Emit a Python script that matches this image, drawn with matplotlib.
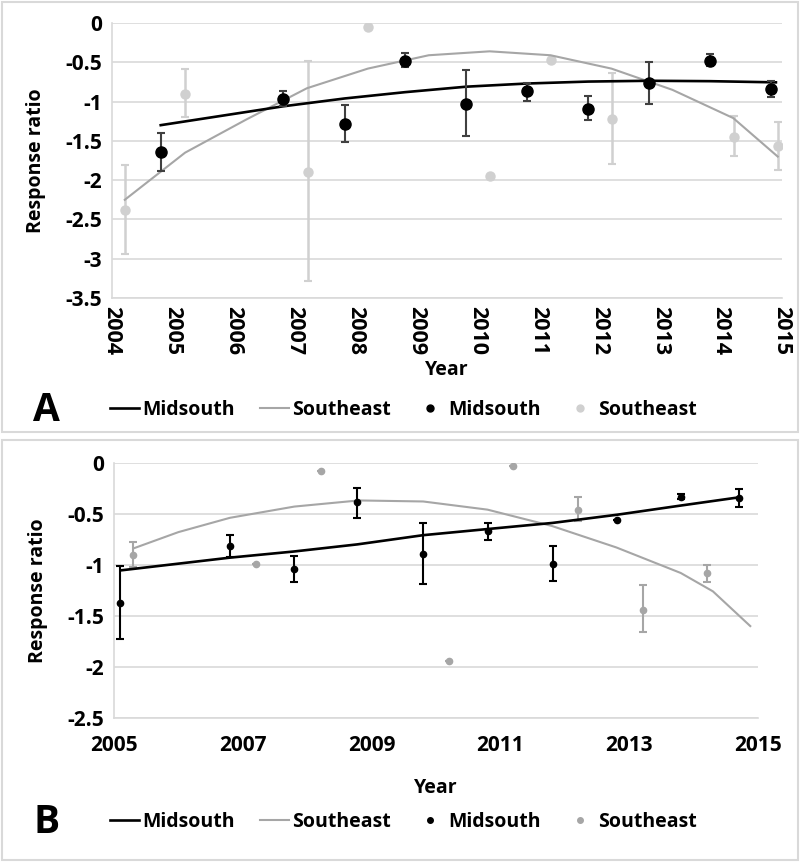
import matplotlib
matplotlib.use("Agg")
from matplotlib import pyplot as plt
from matplotlib.patches import Rectangle
from matplotlib.lines import Line2D

plt.rcParams['font.family'] = ['Open Sans', 'DejaVu Sans']
plt.rcParams['font.weight'] = 'bold'

# ---- panel A data ----
a_ms_x = [2004.8, 2006.81, 2007.82, 2008.81, 2009.82, 2010.81, 2011.82, 2012.82, 2013.82, 2014.82]
a_ms_y = [-1.645, -0.97, -1.28, -0.48, -1.03, -0.87, -1.09, -0.76, -0.48, -0.84]
a_ms_hi = [-1.40, -0.86, -1.04, -0.38, -0.60, -0.76, -0.93, -0.49, -0.39, -0.74]
a_ms_lo = [-1.88, -1.06, -1.52, -0.56, -1.44, -0.99, -1.24, -1.03, -0.55, -0.94]

a_se_x = [2004.21, 2005.2, 2007.21, 2008.21, 2010.21, 2011.21, 2012.21, 2014.22, 2014.93]
a_se_y = [-2.38, -0.90, -1.90, -0.05, -1.95, -0.47, -1.22, -1.45, -1.57]
a_se_hi = [-1.81, -0.59, -0.48, -0.05, -1.95, -0.47, -0.63, -1.18, -1.26]
a_se_lo = [-2.94, -1.20, -3.29, -0.05, -1.95, -0.47, -1.79, -1.69, -1.87]

a_ms_trend_x = [2004.8, 2006.81, 2007.82, 2008.81, 2009.82, 2010.81, 2011.82, 2012.82, 2013.82, 2014.9]
a_ms_trend_y = [-1.30, -1.06, -0.96, -0.88, -0.81, -0.77, -0.745, -0.735, -0.74, -0.755]

a_se_trend_x = [2004.21, 2005.2, 2006.2, 2007.2, 2008.2, 2009.2, 2010.2, 2011.2, 2012.2, 2013.2, 2014.2, 2014.93]
a_se_trend_y = [-2.25, -1.65, -1.23, -0.83, -0.58, -0.41, -0.36, -0.41, -0.58, -0.85, -1.21, -1.70]

# ---- panel B data ----
b_ms_x = [2005.10, 2006.80, 2007.79, 2008.78, 2009.80, 2010.80, 2011.81, 2012.81, 2013.80, 2014.70]
b_ms_y = [-1.37, -0.82, -1.04, -0.39, -0.89, -0.67, -0.99, -0.56, -0.335, -0.35]
b_ms_hi = [-1.01, -0.71, -0.91, -0.25, -0.59, -0.59, -0.82, -0.56, -0.31, -0.26]
b_ms_lo = [-1.73, -0.92, -1.17, -0.54, -1.19, -0.76, -1.16, -0.56, -0.36, -0.43]

b_se_x = [2005.30, 2007.20, 2008.21, 2010.20, 2011.20, 2012.20, 2013.21, 2014.21]
b_se_y = [-0.90, -0.99, -0.08, -1.94, -0.03, -0.46, -1.44, -1.08]
b_se_hi = [-0.78, -0.99, -0.08, -1.94, -0.03, -0.34, -1.20, -1.00]
b_se_lo = [-1.02, -0.99, -0.08, -1.94, -0.03, -0.57, -1.66, -1.17]

b_ms_trend_x = [2005.10, 2006.80, 2007.79, 2008.78, 2009.80, 2010.80, 2011.81, 2012.81, 2013.80, 2014.70]
b_ms_trend_y = [-1.055, -0.93, -0.87, -0.80, -0.71, -0.65, -0.59, -0.51, -0.42, -0.34]

b_se_trend_x = [2005.3, 2006.0, 2006.8, 2007.8, 2008.8, 2009.8, 2010.8, 2011.8, 2012.8, 2013.8, 2014.3, 2014.88]
b_se_trend_y = [-0.84, -0.68, -0.54, -0.43, -0.37, -0.38, -0.46, -0.62, -0.83, -1.08, -1.26, -1.60]

grid_c = "#d9d9d9"
light = "#d0d0d0"
mid = "#a6a6a6"


def errs(y, hi, lo):
    return [[v - l for v, l in zip(y, lo)], [h - v for v, h in zip(y, hi)]]


def style_axes(ax):
    ax.grid(axis="y", color=grid_c, linewidth=1.2)
    ax.set_axisbelow(True)
    for s in ["top", "right"]:
        ax.spines[s].set_visible(False)
    for s in ["left", "bottom"]:
        ax.spines[s].set_color(grid_c)
        ax.spines[s].set_linewidth(1.2)
    ax.tick_params(length=0, labelsize=15, pad=7)
    for lab in ax.get_xticklabels() + ax.get_yticklabels():
        lab.set_fontweight("bold")


fig = plt.figure(figsize=(8, 8.63), dpi=100)

# panel frames
fig.add_artist(Rectangle((0.003, 1 - 432 / 863), 0.994, 430 / 863, transform=fig.transFigure,
                         fill=False, edgecolor=grid_c, linewidth=1.5))
fig.add_artist(Rectangle((0.003, 0.003), 0.994, 1 - 440 / 863 - 0.003, transform=fig.transFigure,
                         fill=False, edgecolor=grid_c, linewidth=1.5))

# ---- panel A ----
axA = fig.add_axes([0.14, 0.6547, 0.8375, 0.3186])
axA.plot(a_ms_trend_x, a_ms_trend_y, color="black", linewidth=1.9, zorder=3)
axA.plot(a_se_trend_x, a_se_trend_y, color=mid, linewidth=1.5, zorder=2)
axA.errorbar(a_se_x, a_se_y, yerr=errs(a_se_y, a_se_hi, a_se_lo), fmt="o", color=light,
             ecolor=light, markersize=6.5, capsize=3, elinewidth=1.8, capthick=1.5, zorder=1)
axA.errorbar(a_ms_x, a_ms_y, yerr=errs(a_ms_y, a_ms_hi, a_ms_lo), fmt="o", color="black",
             ecolor="#404040", markersize=8, capsize=3, elinewidth=1.5, capthick=1.5, zorder=4)
axA.set_xlim(2004, 2015)
axA.set_ylim(-3.5, 0)
axA.set_xticks(range(2004, 2016))
axA.set_yticks([0, -0.5, -1, -1.5, -2, -2.5, -3, -3.5])
axA.set_yticklabels(["0", "-0.5", "-1", "-1.5", "-2", "-2.5", "-3", "-3.5"])
style_axes(axA)
axA.tick_params(axis="x", labelsize=15.5, pad=6)
for lab in axA.get_xticklabels():
    lab.set_rotation(270)
axA.set_ylabel("Response ratio", fontsize=14, fontweight="bold", labelpad=14)
axA.set_xlabel("Year", fontsize=14, fontweight="bold", labelpad=3)

# ---- panel B ----
axB = fig.add_axes([0.1425, 0.168, 0.805, 0.2959])
axB.plot(b_ms_trend_x, b_ms_trend_y, color="black", linewidth=1.9, zorder=3)
axB.plot(b_se_trend_x, b_se_trend_y, color=mid, linewidth=1.5, zorder=2)
axB.errorbar(b_se_x, b_se_y, yerr=errs(b_se_y, b_se_hi, b_se_lo), fmt="o", color=mid,
             ecolor=mid, markersize=4.5, capsize=3, elinewidth=1.5, capthick=1.5, zorder=1)
axB.errorbar(b_ms_x, b_ms_y, yerr=errs(b_ms_y, b_ms_hi, b_ms_lo), fmt="o", color="black",
             ecolor="black", markersize=4.5, capsize=3, elinewidth=1.5, capthick=1.5, zorder=4)
axB.set_xlim(2005, 2015)
axB.set_ylim(-2.5, 0)
axB.set_xticks(range(2005, 2016, 2))
axB.set_yticks([0, -0.5, -1, -1.5, -2, -2.5])
axB.set_yticklabels(["0", "-0.5", "-1", "-1.5", "-2", "-2.5"])
style_axes(axB)
axB.tick_params(axis="x", pad=12)
axB.set_ylabel("Response ratio", fontsize=14, fontweight="bold", labelpad=14)
axB.set_xlabel("Year", fontsize=14, fontweight="bold", labelpad=16)

# ---- legends ----
def add_legend(letter, ypix, dot_col, dot_size):
    handles = [Line2D([], [], color="black", linewidth=1.9),
               Line2D([], [], color=mid, linewidth=1.5),
               Line2D([], [], color="black", marker="o", linestyle="", markersize=dot_size),
               Line2D([], [], color=dot_col, marker="o", linestyle="", markersize=dot_size)]
    labels = ["Midsouth", "Southeast", "Midsouth", "Southeast"]
    fig.legend(handles, labels, loc="center left", bbox_to_anchor=(0.125, 1 - ypix / 863),
               ncol=4, frameon=False, handlelength=1.5, handletextpad=0.15,
               columnspacing=1.3, borderpad=0, prop={"weight": "bold", "size": 14})
    fig.text(0.058, 1 - ypix / 863, letter, fontsize=28, fontweight="bold",
             ha="center", va="center")


add_legend("A", 410, light, 5)
add_legend("B", 822, mid, 4)

plt.savefig("out.png", dpi=100)
plt.close()
